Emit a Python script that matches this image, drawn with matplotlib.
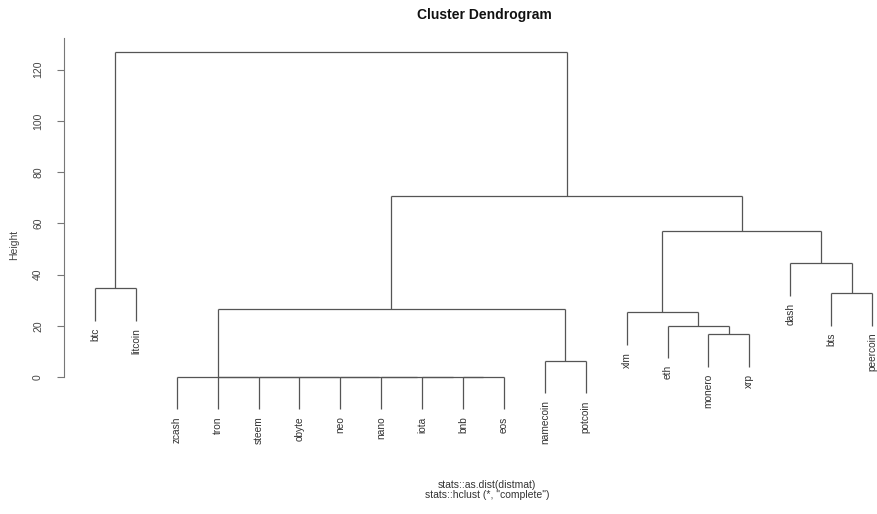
import matplotlib
matplotlib.use("Agg")
import matplotlib.pyplot as plt

plt.rcParams['font.family'] = ['Liberation Sans', 'DejaVu Sans']

# leaves in plotted order
labels = ["btc", "litcoin", "zcash", "tron", "steem", "obyte", "neo", "nano",
          "iota", "bnb", "eos", "namecoin", "potcoin", "xlm", "eth", "monero",
          "xrp", "dash", "bts", "peercoin"]

# R-style merge table: negative = leaf (1-based), positive = earlier merge
merge_left = [-10, -9, -8, -7, -6, -5, -4, -3, -12, -16, -15, -14, 8, -19, -1, -18, 12, 13, 15]
merge_right = [-11, 1, 2, 3, 4, 5, 6, 7, -13, -17, 10, 11, 9, -20, -2, 14, 16, 17, 18]
heights = [0, 0, 0, 0, 0, 0, 0, 0, 6.3, 16.7, 20.0, 25.3, 26.4, 32.7, 34.6, 44.4, 57.2, 70.7, 127.0]

hang = 0.1 * (max(heights) - min(heights))
line_col = "#555555"

# leaf 1 at x=95px, leaf 20 at ~872px
step = (872.0 - 95.0) / 19
left_px = 95 - 0.76 * step
fig = plt.figure(figsize=(8.77, 5.14), dpi=100)
ax = fig.add_axes([left_px / 877, 1 - 423.8 / 514, 20.52 * step / 877, 386.3 / 514])

node_x = {}
leaf_y = {}


def pos(ref):
    if ref < 0:
        return float(-ref)
    return node_x[ref]


for i, (l, r, h) in enumerate(zip(merge_left, merge_right, heights), start=1):
    xl, xr = pos(l), pos(r)
    node_x[i] = (xl + xr) / 2
    for ref, x in ((l, xl), (r, xr)):
        if ref < 0:
            y0 = h - hang
            leaf_y[-ref] = y0
        else:
            y0 = heights[ref - 1]
        ax.plot([x, x], [y0, h], color=line_col, lw=0.9, solid_capstyle='butt')
    ax.plot([xl, xr], [h, h], color=line_col, lw=0.9, solid_capstyle='butt')

for i, lab in enumerate(labels, start=1):
    ax.annotate(lab, (i, leaf_y[i]), xytext=(0, -5), textcoords='offset points',
                rotation=90, ha='center', va='top', fontsize=7.3, color='#333333')

lo = -hang
hi = max(heights)
ext = 0.04 * (hi - lo)
ax.set_xlim(1 - 0.04 * 19, 20 + 0.04 * 19)
ax.set_ylim(lo - ext, hi + ext)

for s in ("top", "right", "bottom"):
    ax.spines[s].set_visible(False)
ax.spines["left"].set_bounds(0, hi + ext)
ax.spines["left"].set_color("#777777")
ax.set_xticks([])
ax.set_yticks([0, 20, 40, 60, 80, 100, 120])
ax.tick_params(axis='y', length=5, color="#777777", labelsize=7.5,
               labelcolor="#444444", pad=10)
for t in ax.get_yticklabels():
    t.set_rotation(90)
    t.set_va('center')

fig.text(14 / 877, 1 - 245 / 514, "Height", rotation=90, ha='center', va='center',
         fontsize=7.5, color='#444444')
fig.text(484 / 877, 1 - 15 / 514, "Cluster Dendrogram", ha='center', va='center',
         fontsize=10, fontweight='bold', color='#111111')
fig.text(487 / 877, 1 - 485.5 / 514, "stats::as.dist(distmat)", ha='center', va='center',
         fontsize=7.5, color='#333333')
fig.text(487 / 877, 1 - 495 / 514, 'stats::hclust (*, "complete")', ha='center', va='center',
         fontsize=7.5, color='#333333')

fig.savefig("out.png", dpi=100)
